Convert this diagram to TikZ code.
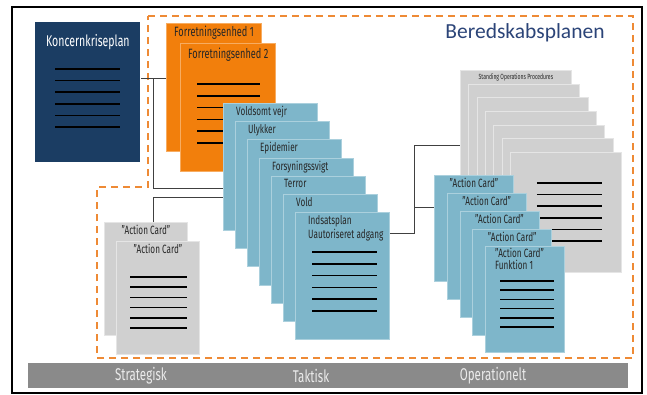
\documentclass[tikz,border=0pt]{standalone}
\usepackage{fontspec}
\setmainfont{Fira Sans}[FakeStretch=0.68]
\newfontfamily\headfont{Carlito}
\usepackage{tikz}
\definecolor{koncernBlue}{HTML}{1B3D63}
\definecolor{unitOrange}{HTML}{F27F0C}
\definecolor{cardBlue}{HTML}{7EB6CA}
\definecolor{cardGrey}{HTML}{D0D0D0}
\definecolor{barGrey}{HTML}{8A8A8A}
\definecolor{frameOrange}{HTML}{EE8A35}
\definecolor{headBlue}{HTML}{2B4478}
\tikzset{
  card/.style={anchor=north west,inner sep=0pt,line width=0.8pt},
  bluecard/.style={card,fill=cardBlue,draw=white!35!cardBlue,minimum width=94pt,minimum height=127pt},
  sopcard/.style={card,fill=cardGrey,draw=white!45!cardGrey,minimum width=111pt,minimum height=120pt},
  accard/.style={card,fill=cardBlue,draw=white!35!cardBlue,minimum width=79pt,minimum height=106pt},
  greycard/.style={card,fill=cardGrey,draw=white!45!cardGrey,minimum width=83pt,minimum height=113pt},
  unitcard/.style={card,fill=unitOrange,draw=white!35!unitOrange,minimum width=95pt,minimum height=128pt},
  cardtitle/.style={anchor=north west,inner sep=0pt,text=black!85,align=left,font=\fontsize{12}{14}\selectfont},
  toptitle/.style={anchor=north,inner sep=0pt,text=black!85,font=\fontsize{12}{13}\selectfont},
  rule/.style={line width=1.5pt,black},
  link/.style={line width=0.8pt,black!75},
}
\newcommand\cardrules[5]{%
  \foreach[evaluate=\k as \dy using {#3+#4*\k}] \k in {0,...,5}
    \draw[rule] ([xshift=#2pt,yshift=-\dy pt]#1.north west) -- ++(#5,0);
}

\begin{document}
\begin{tikzpicture}[
  x=1pt,y=-1pt,
  barlabel/.style={text=white!92!black,font=\fontsize{17}{18}\selectfont},
]
\useasboundingbox (0,0) rectangle (647,394);
\draw[line width=1.2pt] (12,7) rectangle (642,393);
\draw[frameOrange,line width=1.6pt,dash pattern=on 7pt off 5pt]
  (148,16) -- (633,16) -- (633,358) -- (97,358) -- (97,187) -- (148,187) -- cycle;
\node[text=headBlue,font=\headfont\fontsize{21.5}{24}\selectfont] (title) at (525,33) {Beredskabsplanen};

\node[card,fill=koncernBlue,minimum width=105pt,minimum height=140pt,
  label={[anchor=north,inner sep=0pt,text=white,yshift=-12pt,font=\fontsize{15.5}{17}\selectfont]north:Koncernkriseplan}]
  (koncern) at (35,22) {};
\cardrules{koncern}{20}{47}{11.6}{65}

\node[unitcard,label={[cardtitle,font=\fontsize{13.5}{15}\selectfont,xshift=8pt,yshift=-3pt]north west:Forretningsenhed 1}]
  (forr1) at (166,23) {};
\node[unitcard,label={[cardtitle,font=\fontsize{13.5}{15}\selectfont,xshift=8pt,yshift=-5pt]north west:Forretningsenhed 2}]
  (forr2) at (180,43) {};
\cardrules{forr2}{17}{41}{11.8}{63}

\foreach[count=\i from 0] \t in {Voldsomt vejr,Ulykker,Epidemier,Forsyningssvigt,Terror,Vold} {
  \node[bluecard,label={[cardtitle,xshift=13pt,yshift=-3pt]north west:\t}] (b\i) at (223+12*\i,103+18.2*\i) {};
}
\node[bluecard,label={[cardtitle,xshift=13pt,yshift=-3pt]north west:Indsatsplan\\Uautoriseret adgang}]
  (b6) at (295,212) {};
\cardrules{b6}{17}{40}{11.8}{65}

\foreach \i in {0,...,6} {
  \node[sopcard] (sop\i) at (460+8.33*\i,70+13.67*\i) {};
}
\node[toptitle,font=\fontsize{7.5}{8}\selectfont,yshift=-3pt] (sopname) at (sop0.north) {Standing Operations Procedures};
\cardrules{sop6}{27}{31}{11.6}{65}

\foreach \i in {0,...,3} {
  \node[accard,label={[toptitle,yshift=-3pt]north:"Action Card"}] (ac\i) at (434+12.75*\i,175+18*\i) {};
}
\node[accard,label={[cardtitle,xshift=10pt,yshift=-2pt,font=\fontsize{12}{12}\selectfont]north west:"Action Card"\\Funktion 1}]
  (ac4) at (485,246) {};
\cardrules{ac4}{15}{35}{9.2}{54}

\node[greycard,label={[toptitle,yshift=-3pt]north:"Action Card"}] (gac0) at (104,222) {};
\node[greycard,label={[toptitle,yshift=-3pt]north:"Action Card"}] (gac1) at (116,241) {};
\cardrules{gac1}{14}{36}{10.2}{57}

% connectors
\coordinate (jk) at (153,78);
\coordinate (jb) at (153,188);
\coordinate (jg) at (153,197);
\coordinate (jr) at (414,233);
\coordinate (jrTop) at (414,145);
\coordinate (jrMid) at (414,207);
\draw[link] (koncern.east |- jk) -- (forr1.west |- jk);
\draw[link] (jk) -- (jb) -- (jb -| b0.west);
\draw[link] (gac0.north -| jg) -- (jg) -- (jg -| b0.west);
\draw[link] (b6.east |- jr) -- (jr) -- (jrTop) -- (jrTop -| sop0.west);
\draw[link] (jrMid) -- (jrMid -| ac0.west);

\node[card,fill=barGrey,minimum width=600pt,minimum height=25pt] (bar) at (28,363) {};
\node[barlabel] (strat) at (141,375.5) {Strategisk};
\node[barlabel] (takt) at (311,375.5) {Taktisk};
\node[barlabel] (oper) at (493,375.5) {Operationelt};
\end{tikzpicture}
\end{document}
